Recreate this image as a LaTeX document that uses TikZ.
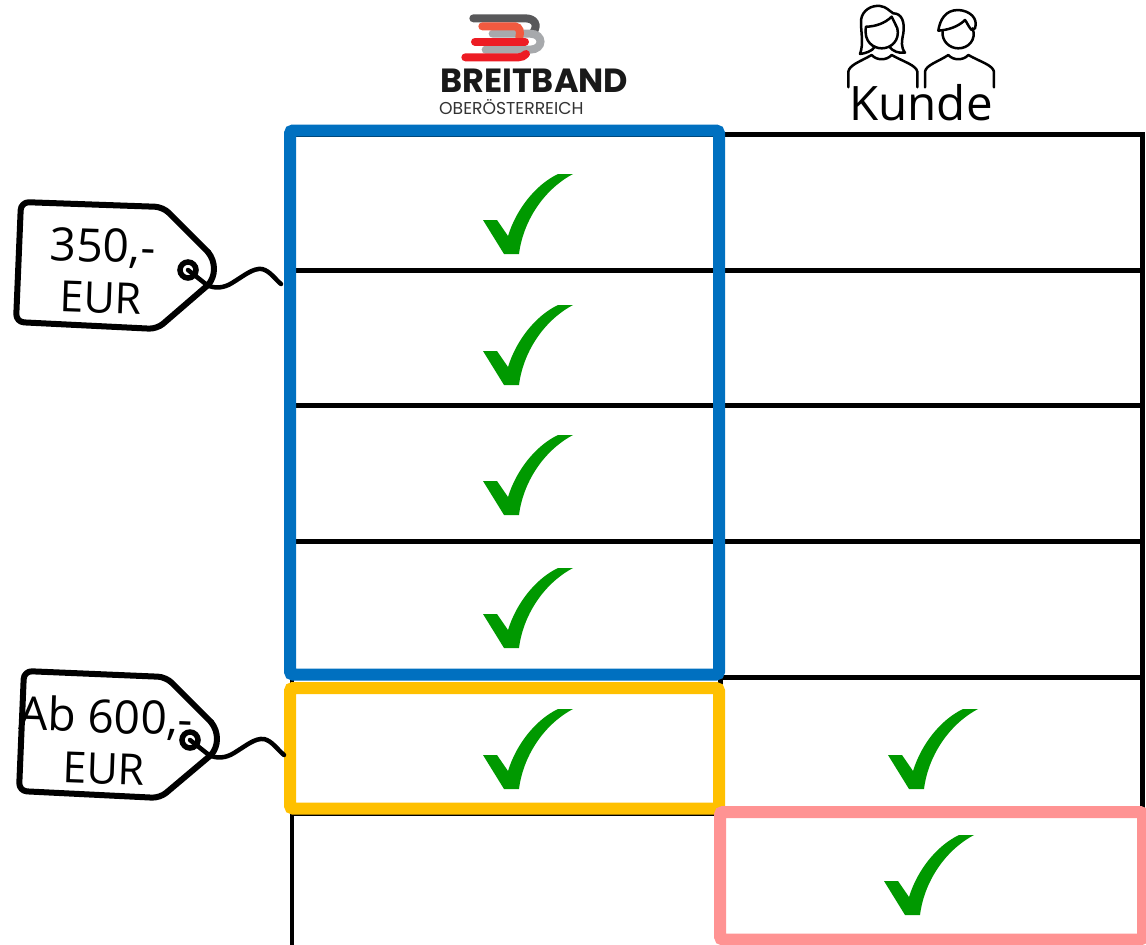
\documentclass[tikz,border=0pt]{standalone}
\usepackage{fontspec}
\setmainfont{Open Sans}
\newfontfamily\logofont{Poppins}
\definecolor{bluebox}{HTML}{0070C0}
\definecolor{yellowbox}{HTML}{FFC000}
\definecolor{pinkbox}{HTML}{FF9393}
\definecolor{tickgreen}{HTML}{009900}
\definecolor{logodark}{HTML}{58585A}
\definecolor{logogray}{HTML}{A7A9AC}
\definecolor{logored}{HTML}{ED1C24}
\definecolor{logoorange}{HTML}{F15A40}
\newcommand\tickmark[2]{\fill[tickgreen,shift={(#1,#2)}] (36,80) .. controls (40,48) and (60,16) .. (90,0) -- (75,0) .. controls (52,11) and (33,36) .. (25,62) -- (14,46) -- (0,46) -- (21,80) -- cycle;}
\tikzset{
  gridline/.style={line width=5pt,black},
  framebox/.style={line width=12pt,rounded corners=3pt},
  tagline/.style={line width=6pt,black,line join=round,line cap=round},
  tagtext/.style={align=center,rotate=-2,inner sep=0pt,font=\fontsize{43}{51}\selectfont},
  icon/.style={line width=2.5pt,black,line cap=round,line join=round},
  logobar/.style={line width=8pt,line cap=round},
}
\begin{document}
\begin{tikzpicture}[x=1pt,y=-1pt]
\useasboundingbox (0,0) rectangle (1146,945);
\fill[white] (0,0) rectangle (1146,945);
% grid
\foreach \yy in {134.5,270.5,405.5,541.5,677} \draw[gridline] (292,\yy) -- (1142,\yy);
\draw[gridline] (292,813.5) -- (720,813.5);
\draw[line width=4pt,black] (292,134) -- (292,945);
\draw[gridline] (720,134) -- (720,813);
\draw[gridline] (1142,132) -- (1142,813);
% frames
\draw[framebox,bluebox] (290,130.5) rectangle (719,674.5);
\draw[framebox,yellowbox] (290,688) rectangle (719,808.5);
\draw[framebox,pinkbox] (720,812) rectangle (1143,939.5);
% ticks
\tickmark{483}{174}
\tickmark{483}{305}
\tickmark{483}{435}
\tickmark{483}{568}
\tickmark{483}{709}
\tickmark{888}{709}
\tickmark{884}{835}
% price tag 1
\coordinate (eyeA) at (188,270);
\coordinate (endA) at (281,284);
\draw[tagline,rounded corners=8pt] (208,285) -- (157,329) -- (16,322) -- (21,202) -- (163,207) -- (208,252);
\draw[tagline] (208,252) .. controls (216,262) and (216,276) .. (208,285);
\draw[line width=5.5pt,black] (eyeA) circle (8);
\draw[line width=4.5pt,black,line cap=round] (eyeA) -- (207,285) .. controls (215,289) and (224,288) .. (232,283) .. controls (245,275) and (253,268) .. (262,269) .. controls (270,271) and (275,279) .. (endA);
\node[tagtext] (priceA) at (102,271) {{\fontsize{46}{51}\selectfont 350,-}\\EUR};
% price tag 2
\coordinate (eyeB) at (190,740);
\coordinate (endB) at (284,755);
\draw[tagline,rounded corners=8pt] (211,755) -- (160,798) -- (19,791) -- (24,671) -- (166,677) -- (211,722);
\draw[tagline] (211,722) .. controls (219,732) and (219,746) .. (211,755);
\draw[line width=5.5pt,black] (eyeB) circle (8);
\draw[line width=4.5pt,black,line cap=round] (eyeB) -- (209,755) .. controls (217,759) and (226,758) .. (234,753) .. controls (247,745) and (255,738) .. (264,739) .. controls (272,741) and (277,749) .. (endB);
\node[tagtext] (priceB) at (105,741) {{\fontsize{46}{51}\selectfont Ab 600,-}\\EUR};
% logo
\begin{scope}[shift={(420,0)},x=0.3333pt,y=-0.3333pt]
\draw[logobar,logodark] (160,55) -- (315,55) .. controls (345,55) and (355,75) .. (340,97);
\draw[logobar,logogray] (218,101) -- (330,101) .. controls (372,101) and (372,149) .. (330,149) -- (197,149);
\draw[logobar,logoorange] (187,79) -- (285,79) .. controls (300,82) and (302,95) .. (298,112);
\draw[logobar,logored] (165,125) -- (315,125);
\draw[logobar,logored] (136,172) -- (295,172) .. controls (305,172) and (312,168) .. (318,162);
\end{scope}
\node[anchor=base west,inner sep=0pt,text=black!90,font=\logofont\bfseries\fontsize{33.5}{33.5}\selectfont] (brandA) at (440,92.5) {BREITBAND};
\node[anchor=base west,inner sep=0pt,text=black!80,font=\logofont\fontsize{17.2}{17.2}\selectfont] (brandB) at (439,114) {OBERÖSTERREICH};
% people
\begin{scope}[shift={(830,0)},x=0.3333pt,y=-0.3333pt]
\draw[icon] (55,262) -- (55,215) .. controls (58,195) and (90,185) .. (125,165) .. controls (140,182) and (170,182) .. (185,165) .. controls (220,185) and (258,195) .. (262,215) -- (262,262);
\draw[icon] (108,80) .. controls (100,125) and (130,145) .. (155,145) .. controls (185,145) and (210,120) .. (202,85) .. controls (195,70) and (190,60) .. (185,50) .. controls (165,70) and (135,80) .. (108,80);
\draw[icon] (135,140) .. controls (125,155) and (105,160) .. (90,162) .. controls (102,130) and (92,95) .. (93,60) .. controls (97,30) and (125,15) .. (150,18) .. controls (170,20) and (180,35) .. (190,40) .. controls (215,40) and (225,65) .. (220,100) .. controls (215,125) and (212,140) .. (225,158) .. controls (205,160) and (190,155) .. (178,140);
\draw[icon] (285,262) -- (285,215) .. controls (288,195) and (325,185) .. (355,165) .. controls (370,182) and (400,182) .. (415,165) .. controls (450,185) and (488,195) .. (492,215) -- (492,262);
\draw[icon] (338,95) .. controls (335,125) and (360,145) .. (385,145) .. controls (415,145) and (440,120) .. (428,85);
\draw[icon] (325,92) .. controls (330,60) and (345,30) .. (385,30) .. controls (420,32) and (445,55) .. (435,85) -- (425,90) .. controls (415,80) and (410,65) .. (405,60) .. controls (385,80) and (355,90) .. (325,92) -- cycle;
\end{scope}
\node[inner sep=0pt,anchor=base,font=\fontsize{47.5}{47.5}\selectfont] (customer) at (921,120) {Kunde};
\end{tikzpicture}
\end{document}
